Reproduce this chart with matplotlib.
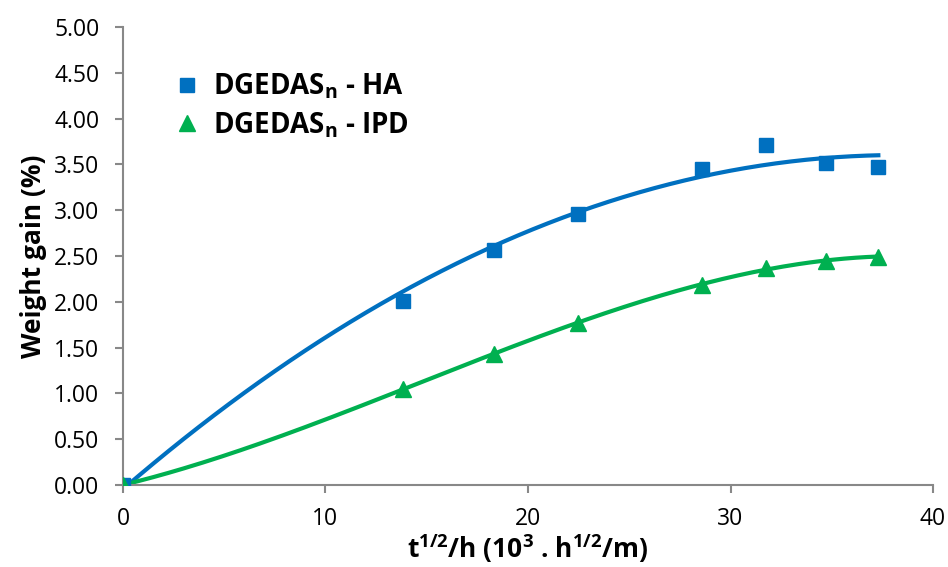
import matplotlib
matplotlib.use("Agg")
import matplotlib.pyplot as plt
import numpy as np

plt.rcParams["font.family"] = ["Open Sans", "DejaVu Sans"]

x_time = [0, 13.85, 18.3, 22.45, 28.6, 31.75, 34.7, 37.3]
ha_gain = [0.0, 2.01, 2.57, 2.96, 3.45, 3.71, 3.52, 3.47]
ipd_gain = [0.0, 1.05, 1.43, 1.77, 2.18, 2.37, 2.45, 2.49]

BLUE = "#0070C0"
GREEN = "#00B050"
GREY = "#888888"


def trend(x, y, order):
    coef = np.polyfit(x, y, order)
    xs = np.linspace(min(x), max(x), 200)
    return xs, np.polyval(coef, xs)


def main():
    fig = plt.figure(figsize=(9.48, 5.67), dpi=100)
    ax = fig.add_axes([0.1297, 0.1446, 0.8545, 0.8078])

    # polynomial trendlines
    xs, ys = trend(x_time, ha_gain, 2)
    ax.plot(xs, ys, color=BLUE, lw=3, zorder=2)
    xs, ys = trend(x_time, ipd_gain, 3)
    ax.plot(xs, ys, color=GREEN, lw=3, zorder=2)

    ax.plot(x_time, ha_gain, ls="none", marker="s", ms=10, color=BLUE,
            label="DGEDAS$_\\mathregular{n}$ - HA", zorder=3)
    ax.plot(x_time, ipd_gain, ls="none", marker="^", ms=11, color=GREEN,
            label="DGEDAS$_\\mathregular{n}$ - IPD", zorder=3)

    ax.set_xlim(0, 40)
    ax.set_ylim(0, 5)
    ax.set_xticks([0, 10, 20, 30, 40])
    yt = np.arange(0, 5.01, 0.5)
    ax.set_yticks(yt)
    ax.set_yticklabels([f"{v:.2f}" for v in yt])

    for s in ["top", "right"]:
        ax.spines[s].set_visible(False)
    for s in ["left", "bottom"]:
        ax.spines[s].set_color(GREY)
        ax.spines[s].set_linewidth(1.5)
    ax.tick_params(axis="both", colors=GREY, width=1.5, length=6,
                   labelsize=16.5, labelcolor="black")
    ax.tick_params(axis="y", pad=11)
    ax.tick_params(axis="x", pad=10)

    ax.set_xlabel("t$^\\mathregular{1/2}$/h (10$^\\mathregular{3}$ . h$^\\mathregular{1/2}$/m)",
                  fontsize=19, fontweight="bold", labelpad=1)
    ax.set_ylabel("Weight gain (%)", fontsize=19, fontweight="bold", labelpad=5)

    ax.legend(loc="upper left", bbox_to_anchor=(0.062, 0.902), frameon=False,
              prop={"size": 20, "weight": "bold"}, handletextpad=0.43,
              labelspacing=0.3, handlelength=1.0, borderpad=0, borderaxespad=0)

    fig.savefig("out.png", dpi=100)


if __name__ == "__main__":
    main()
